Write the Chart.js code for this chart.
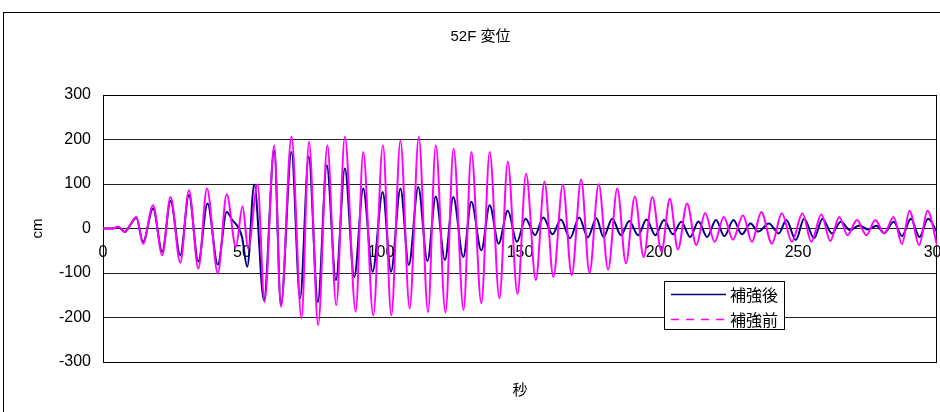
<!DOCTYPE html>
<html><head><meta charset="utf-8">
<script src="https://cdn.jsdelivr.net/npm/chart.js@4.4.1/dist/chart.umd.min.js"></script>
<style>html,body{margin:0;padding:0;background:#fff;overflow:hidden}canvas{display:block}</style>
</head><body>
<canvas id="c" width="940" height="412"></canvas>
<script>
const chartTitle = '52F 変位';
const xTitle = '秒';
const yTitle = 'cm';
const seriesNames = ['補強後', '補強前'];
const xTicks = [0, 50, 100, 150, 200, 250, 300];
const yTicks = [-300, -200, -100, 0, 100, 200, 300];

// 補強後 (after reinforcement) – time (s) and displacement (cm) at turning points
const afterTime = [0,3.5,5.5,7.8,9.5,12.0,14.4,18.0,21.3,24.3,27.8,30.9,34.3,37.6,41.3,44.5,46.5,48.5,50.0,51.9,54.4,57.9,61.6,64.0,67.8,70.9,74.0,77.3,80.5,83.8,87.0,90.4,93.6,97.0,100.6,103.6,107.0,110.0,113.4,116.7,119.7,123.0,126.0,129.6,132.5,136.1,139.1,142.3,145.6,148.9,152.0,155.4,158.4,161.7,164.7,168.0,171.3,174.4,177.5,180.0,183.2,186.3,189.3,192.5,195.5,198.7,201.8,205.0,208.0,211.2,214.2,217.3,220.5,223.5,226.8,229.8,232.9,235.7,239.5,243.1,245.8,249.2,252.2,255.8,258.8,262.2,265.4,268.8,272.0,275.2,278.2,281.0,284.4,287.4,290.6,293.7,296.8,300];
const afterDisp = [0,0,4,-8,5,24,-30,45,-52,62,-60,75,-74,56,-81,37,19,4,-19,-86,99,-161,175,-172,172,-157,161,-165,142,-116,135,-109,90,-97,82,-97,90,-82,93,-73,72,-71,71,-64,60,-49,52,-34,40,-30,22,-15,25,-13,20,-22,25,-20,23,-19,22,-15,17,-15,20,-15,19,-13,15,-19,16,-19,19,-17,19,-13,11,-7,11,-11,19,-26,22,-22,22,-11,15,-4,7,-2,6,-10,15,-17,22,-19,22,-8];

// 補強前 (before reinforcement)
const beforeTime = [0,3.5,5.5,7.8,9.5,12.0,14.4,18.0,21.3,24.3,27.8,30.9,34.3,37.4,41.3,44.5,47.8,50.2,52.2,55.6,58.1,61.6,64.0,67.8,71.4,74.1,77.4,80.7,83.9,87.0,90.9,93.6,97.2,100.7,103.7,107.0,110.3,113.6,116.9,119.7,123.2,126.1,129.7,132.5,136.1,139.1,142.6,145.6,149.1,152.2,155.7,158.8,162.0,165.4,168.6,172.0,175.0,178.3,181.7,185.0,188.1,191.3,194.5,197.6,200.9,203.9,206.8,210.1,213.4,216.6,220.0,223.3,226.6,230.2,233.4,236.8,240.6,244.2,247.8,251.6,254.8,258.4,261.6,264.8,267.8,271.2,274.6,277.8,281.0,284.4,287.4,290.1,293.6,296.6,300];
const beforeDisp = [0,0,4,-8,5,26,-34,52,-60,71,-77,86,-90,90,-101,77,-41,50,-45,99,-165,187,-176,206,-202,195,-217,187,-172,206,-187,172,-195,187,-195,198,-180,206,-188,187,-189,180,-183,172,-168,172,-157,150,-147,123,-116,105,-109,99,-105,110,-100,100,-92,90,-78,72,-64,71,-52,67,-47,56,-37,35,-30,26,-25,30,-30,37,-34,34,-30,34,-30,32,-28,26,-15,19,-15,19,-11,26,-35,40,-37,40,-37];

const FONT = "'Liberation Sans','Noto Sans CJK JP',sans-serif";
Chart.defaults.font.family = FONT;
Chart.defaults.color = '#000';

const framePlugin = {
  id: 'frames',
  beforeDatasetsDraw(chart) {
    const {ctx, chartArea: a} = chart;
    ctx.save();
    ctx.strokeStyle = '#000';
    ctx.lineWidth = 1;
    ctx.strokeRect(Math.round(a.left) + 0.5, Math.round(a.top) + 0.5, Math.round(a.right - a.left) - 1, Math.round(a.bottom - a.top));
    ctx.restore();
  },
  afterDraw(chart) {
    const ctx = chart.ctx;
    ctx.save();
    ctx.strokeStyle = '#000';
    ctx.lineWidth = 1;
    ctx.strokeRect(3.5, 12.5, 2000, 2000);
    // legend box
    ctx.fillStyle = '#fff';
    ctx.fillRect(664.5, 281.5, 120, 48);
    ctx.strokeRect(664.5, 281.5, 120, 48);
    const ds = chart.data.datasets;
    const rows = [294.5, 319.5];
    ds.forEach((d, i) => {
      ctx.beginPath();
      ctx.strokeStyle = d.borderColor;
      ctx.lineWidth = 1.5;
      ctx.setLineDash(i === 1 ? [8, 7] : []);
      ctx.moveTo(671, rows[i]);
      ctx.lineTo(726, rows[i]);
      ctx.stroke();
      ctx.setLineDash([]);
      ctx.fillStyle = '#000';
      ctx.font = "16px 'Noto Sans CJK JP', sans-serif";
      ctx.textBaseline = 'middle';
      ctx.textAlign = 'left';
      ctx.fillText(d.label, 730, rows[i]);
    });
    ctx.restore();
  }
};

new Chart(document.getElementById('c'), {
  type: 'line',
  data: {
    datasets: [
      {
        label: seriesNames[0],
        data: afterTime.map((t, i) => ({x: t, y: afterDisp[i]})),
        borderColor: '#000080',
        borderWidth: 2,
        pointRadius: 0,
        tension: 0.4,
        cubicInterpolationMode: 'monotone',
        order: 2,
        xAxisID: 'x', yAxisID: 'y'
      },
      {
        label: seriesNames[1],
        data: beforeTime.map((t, i) => ({x: t, y: beforeDisp[i]})),
        borderColor: '#FF00FF',
        borderWidth: 2,
        pointRadius: 0,
        tension: 0.4,
        cubicInterpolationMode: 'monotone',
        order: 1,
        xAxisID: 'x', yAxisID: 'y'
      }
    ]
  },
  options: {
    responsive: false,
    animation: false,
    devicePixelRatio: 1,
    layout: {padding: {left: 24, right: 3, top: 0, bottom: 0}},
    plugins: {
      legend: {display: false},
      tooltip: {enabled: false},
      title: {display: true, text: chartTitle, color: '#000', font: {size: 15, weight: 'normal', family: FONT}, padding: {top: 28, bottom: 49}}
    },
    scales: {
      x: {
        type: 'linear', position: 'bottom',
        min: xTicks[0], max: xTicks[xTicks.length - 1],
        ticks: {display: false},
        grid: {display: false, drawTicks: false},
        border: {display: false},
        title: {display: true, text: xTitle, color: '#000', font: {size: 15}, padding: {top: 20, bottom: 12}}
      },
      x2: {
        type: 'linear', position: {y: 0},
        min: xTicks[0], max: xTicks[xTicks.length - 1],
        afterBuildTicks(s) { s.ticks = xTicks.map(v => ({value: v})); },
        ticks: {padding: 14, color: '#000', font: {size: 16}, maxRotation: 0, autoSkip: false},
        grid: {display: false, drawTicks: false},
        border: {display: false},
        afterFit(s) { s.paddingLeft = 0; s.paddingRight = 0; }
      },
      y: {
        type: 'linear', position: 'left',
        min: yTicks[0], max: yTicks[yTicks.length - 1],
        afterBuildTicks(s) { s.ticks = yTicks.map(v => ({value: v})); },
        ticks: {padding: 12, color: '#000', font: {size: 16}},
        grid: {color: '#222', lineWidth: 1, drawTicks: false},
        border: {display: true, color: '#000'},
        title: {display: true, text: yTitle, color: '#000', font: {size: 15}, padding: {top: 5, bottom: 0}},
        afterFit(s) { s.width = 79; }
      }
    }
  },
  plugins: [framePlugin]
});
</script>
</body></html>
